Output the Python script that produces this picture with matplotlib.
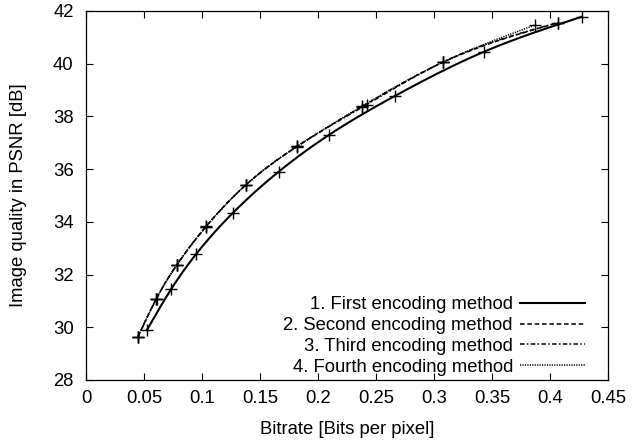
import numpy as np
import matplotlib
matplotlib.use("Agg")
import matplotlib.pyplot as plt

# ---- data ----
bitrate_1 = [0.0526, 0.0733, 0.0948, 0.1264, 0.1660, 0.2095, 0.2664, 0.3434, 0.4273]
psnr_1 = [29.90, 31.44, 32.77, 34.33, 35.90, 37.30, 38.78, 40.46, 41.78]

bitrate_2 = [0.0446, 0.0603, 0.0782, 0.1034, 0.1377, 0.1816, 0.2377, 0.3075, 0.4071]
psnr_2 = [29.62, 31.06, 32.36, 33.82, 35.40, 36.85, 38.37, 40.05, 41.56]

bitrate_3 = [0.0448, 0.0608, 0.0785, 0.1036, 0.1380, 0.1820, 0.2420, 0.3080, 0.4071]
psnr_3 = [29.63, 31.09, 32.38, 33.83, 35.41, 36.87, 38.45, 40.07, 41.56]

bitrate_4 = [0.0447, 0.0605, 0.0783, 0.1035, 0.1378, 0.1818, 0.2380, 0.3078, 0.3873]
psnr_4 = [29.62, 31.07, 32.37, 33.82, 35.40, 36.86, 38.39, 40.06, 41.47]

labels = ["1. First encoding method", "2. Second encoding method",
          "3. Third encoding method", "4. Fourth encoding method"]
x_ticks = [0, 0.05, 0.1, 0.15, 0.2, 0.25, 0.3, 0.35, 0.4, 0.45]
x_ticklabels = ["0", "0.05", "0.1", "0.15", "0.2", "0.25", "0.3", "0.35", "0.4", "0.45"]
y_ticks = [28, 30, 32, 34, 36, 38, 40, 42]


def natural_spline(x, y, n=200):
    """Smooth rendering curve through the given points (natural cubic spline)."""
    x = np.asarray(x, float)
    y = np.asarray(y, float)
    k = len(x)
    h = np.diff(x)
    A = np.zeros((k, k))
    b = np.zeros(k)
    A[0, 0] = 1
    A[-1, -1] = 1
    for i in range(1, k - 1):
        A[i, i - 1] = h[i - 1]
        A[i, i] = 2 * (h[i - 1] + h[i])
        A[i, i + 1] = h[i]
        b[i] = 3 * ((y[i + 1] - y[i]) / h[i] - (y[i] - y[i - 1]) / h[i - 1])
    c = np.linalg.solve(A, b)
    xs = np.linspace(x[0], x[-1], n)
    idx = np.clip(np.searchsorted(x, xs) - 1, 0, k - 2)
    dx = xs - x[idx]
    hi = h[idx]
    bi = (y[idx + 1] - y[idx]) / hi - hi * (2 * c[idx] + c[idx + 1]) / 3
    di = (c[idx + 1] - c[idx]) / (3 * hi)
    ys = y[idx] + bi * dx + c[idx] * dx ** 2 + di * dx ** 3
    return xs, ys


plt.rcParams['font.family'] = ['Liberation Sans', 'DejaVu Sans']
plt.rcParams['font.size'] = 13.3

fig = plt.figure(figsize=(6.33, 4.45), dpi=100)
ax = fig.add_axes([86 / 633, 1 - 380 / 445, 522 / 633, 369 / 445])

series = [
    (bitrate_1, psnr_1, dict(ls='-', lw=1.5)),
    (bitrate_2, psnr_2, dict(ls=(0, (3, 1.8)), lw=1.1)),
    (bitrate_3, psnr_3, dict(ls=(0, (3, 1.5, 1, 1.5)), lw=1.1)),
    (bitrate_4, psnr_4, dict(ls=(0, (0.8, 0.8)), lw=1.1)),
]

handles = []
for (bx, py, st), lab in zip(series, labels):
    xs, ys = natural_spline(bx, py)
    ln, = ax.plot(xs, ys, color='black', label=lab, **st)
    ax.plot(bx, py, ls='none', marker='+', ms=8, mew=1.0, color='black')
    handles.append(ln)

ax.set_xlim(0, 0.45)
ax.set_ylim(28, 42)
ax.set_xticks(x_ticks)
ax.set_xticklabels(x_ticklabels)
ax.set_yticks(y_ticks)
ax.tick_params(direction='in', top=True, right=True, length=5, width=0.8)
ax.tick_params(axis='x', pad=7)
ax.tick_params(axis='y', pad=9)
for s in ax.spines.values():
    s.set_linewidth(0.9)

fig.text(347 / 633, 1 - 430 / 445, "Bitrate [Bits per pixel]", ha='center', va='center')
fig.text(19 / 633, 1 - 195 / 445, "Image quality in PSNR [dB]", ha='center', va='center',
         rotation=90)

leg = ax.legend(handles=handles, loc='lower right', bbox_to_anchor=(0.956, 0.012),
                frameon=False, markerfirst=False, handlelength=3.5, handletextpad=0.4,
                labelspacing=0.2, borderpad=0, borderaxespad=0)

fig.savefig("out.png", dpi=100)
